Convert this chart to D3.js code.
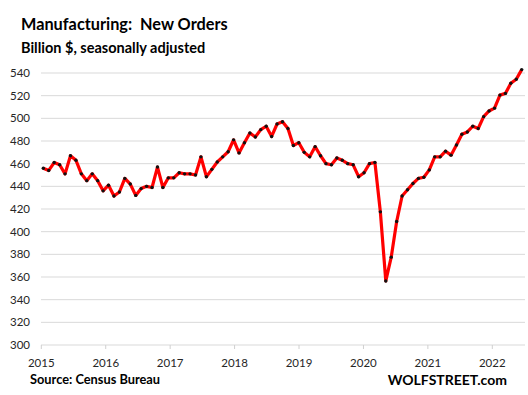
<!DOCTYPE html>
<html>
<head>
<meta charset="utf-8">
<script src="https://cdn.jsdelivr.net/npm/d3@7"></script>
<style>
  html, body { margin: 0; padding: 0; background: #fff; }
  svg text { font-family: Lato, "Open Sans", sans-serif; }
</style>
</head>
<body>
<div id="chart"></div>
<script>
// monthly new orders, Jan 2015 .. May 2022, billion $
const startYear = 2015;
const newOrders = [
    456, 454, 461, 459, 451, 467, 463, 451, 445, 451, 445, 436,
    441, 431.5, 435, 447, 442, 432, 438, 440, 439, 457, 439, 447.5,
    447.5, 452, 451, 451, 450, 466, 448.5, 455, 461.5, 466, 470.5, 481,
    469.5, 478.5, 487, 483.5, 490, 493, 484, 495, 497, 491, 476, 478.5,
    470, 466, 475, 467, 460, 459, 465, 463, 460, 459, 448.5, 452,
    460, 461, 417.5, 356.5, 377.5, 409, 431.5, 437, 442.5, 447, 448, 454.5,
    466, 466, 471, 467.5, 476.5, 486, 488, 493, 491, 501.5, 506.5, 509,
    520.5, 522, 531, 534.5, 543
];
const yTicks = [300, 320, 340, 360, 380, 400, 420, 440, 460, 480, 500, 520, 540];
const yearLabels = ["2015", "2016", "2017", "2018", "2019", "2020", "2021", "2022"];

const width = 528, height = 395;
const plotLeft = 41, plotRight = 525, plotTop = 73, plotBottom = 345;

const svg = d3.select("#chart").append("svg")
    .attr("width", width)
    .attr("height", height);

const y = d3.scaleLinear().domain([300, 540]).range([plotBottom, plotTop]);
// year ticks (Excel date axis) and the monthly points sit on slightly different grids
const xYear = d3.scaleLinear().domain([2015, 2022]).range([41.3, 492.3]);
const xMonth = d3.scaleLinear().domain([0, newOrders.length - 1]).range([43.3, 521.7]);

// gridlines
svg.append("g").selectAll("line")
    .data(yTicks)
    .enter().append("line")
    .attr("x1", plotLeft).attr("x2", plotRight)
    .attr("y1", d => y(d)).attr("y2", d => y(d))
    .attr("stroke", "#d9d9d9")
    .attr("stroke-width", 1);

// y labels
svg.append("g").selectAll("text")
    .data(yTicks)
    .enter().append("text")
    .attr("x", 30)
    .attr("y", d => y(d))
    .attr("dy", "0.36em")
    .attr("text-anchor", "end")
    .attr("font-size", 11.5)
    .attr("fill", "#262626")
    .text(d => d);

// x ticks + labels
const years = yearLabels.map(Number);
svg.append("g").selectAll("line")
    .data(years)
    .enter().append("line")
    .attr("x1", d => xYear(d)).attr("x2", d => xYear(d))
    .attr("y1", plotBottom).attr("y2", plotBottom + 4)
    .attr("stroke", "#d0d0d0");

svg.append("g").selectAll("text")
    .data(yearLabels)
    .enter().append("text")
    .attr("x", d => xYear(+d))
    .attr("y", 367)
    .attr("text-anchor", "middle")
    .attr("font-size", 11.5)
    .attr("fill", "#262626")
    .text(d => d);

// the series
const line = d3.line()
    .x((d, i) => xMonth(i))
    .y(d => y(d));

svg.append("path")
    .datum(newOrders)
    .attr("d", line)
    .attr("fill", "none")
    .attr("stroke", "#ff0000")
    .attr("stroke-width", 3.2)
    .attr("stroke-linejoin", "round");

svg.append("g").selectAll("circle")
    .data(newOrders)
    .enter().append("circle")
    .attr("cx", (d, i) => xMonth(i))
    .attr("cy", d => y(d))
    .attr("r", 1.7)
    .attr("fill", "#111");

// titles
svg.append("text")
    .attr("x", 21).attr("y", 30)
    .attr("font-size", 16.3)
    .attr("font-weight", "bold")
    .attr("fill", "#000")
    .attr("xml:space", "preserve")
    .text("Manufacturing:  New Orders");

svg.append("text")
    .attr("x", 21).attr("y", 53)
    .attr("font-size", 14.5)
    .attr("font-weight", "bold")
    .attr("fill", "#000")
    .text("Billion $, seasonally adjusted");

svg.append("text")
    .attr("x", 30).attr("y", 384)
    .attr("font-size", 12.8)
    .attr("font-weight", "bold")
    .attr("fill", "#000")
    .text("Source: Census Bureau");

svg.append("text")
    .attr("x", 507).attr("y", 384.5)
    .attr("text-anchor", "end")
    .attr("font-size", 14)
    .attr("font-weight", "bold")
    .attr("fill", "#000")
    .text("WOLFSTREET.com");
</script>
</body>
</html>
